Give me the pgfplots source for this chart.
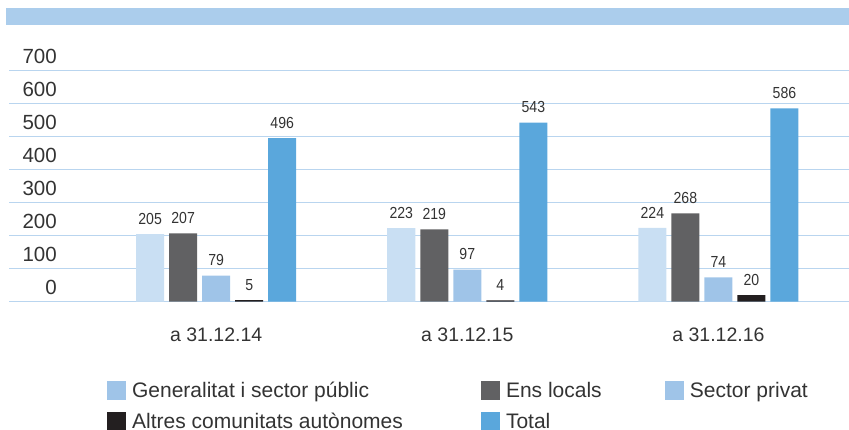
\documentclass[border=0pt]{standalone}
\usepackage{pgfplots}
\pgfplotsset{compat=1.18}
\usepackage{fontspec}
\setmainfont{Liberation Sans}
\newfontfamily\narrowfont[FakeStretch=0.88]{Liberation Sans}
\definecolor{cA}{HTML}{C9DFF3}
\definecolor{cB}{HTML}{616163}
\definecolor{cC}{HTML}{9FC4E8}
\definecolor{cD}{HTML}{231F20}
\definecolor{cE}{HTML}{5AA7DC}
\definecolor{gridc}{HTML}{B9D5EF}
\definecolor{bandc}{HTML}{ABCDEC}
\definecolor{textc}{HTML}{333333}
\begin{document}
\begin{tikzpicture}
\useasboundingbox (0,0) rectangle (849pt,430pt);
\fill[bandc] (6pt,405pt) rectangle (849pt,421.7pt);
\begin{axis}[
  at={(9pt,128.3pt)}, anchor=south west,
  scale only axis, width=840pt, height=231pt,
  xmin=-0.825, xmax=2.52, ymin=0, ymax=700,
  ytick={0,100,...,700},
  xtick={0,1,2}, xticklabels={a 31.12.14, a 31.12.15, a 31.12.16},
  axis line style={draw=none}, major tick length=0pt,
  ymajorgrids, grid style={gridc, line width=1.2pt},
  /pgf/number format/assume math mode=true,
  yticklabel style={anchor=base east, inner sep=0pt, xshift=48pt, yshift=7.5pt, font=\fontsize{20.5}{24}\selectfont, text=textc},
  xticklabel style={anchor=base, inner sep=0pt, yshift=-40pt, font=\fontsize{19.5}{24}\selectfont, text=textc},
  ybar, bar width=0.1116,
  nodes near coords,
  every node near coord/.append style={inner sep=0pt, yshift=9.5pt, font=\narrowfont\fontsize{16}{19}\selectfont, text=textc},
  legend columns=3,
  legend cell align=left,
  legend style={at={(axis description cs:0.1167,-0.343)}, anchor=north west, draw=none, fill=none, inner sep=0pt,
    font=\fontsize{21}{25}\selectfont, text=textc, row sep=13pt,
    nodes={inner sep=0pt},
    /tikz/every odd column/.style={column sep=7pt}},
]
\addplot[fill=cA, draw=none, bar shift=-0.263, forget plot] coordinates {(0,205) (1,223) (2,224)};
\addplot[fill=cB, draw=none, bar shift=-0.1315, forget plot] coordinates {(0,207) (1,219) (2,268)};
\addplot[fill=cC, draw=none, bar shift=0, forget plot] coordinates {(0,79) (1,97) (2,74)};
\addplot[fill=cD, draw=none, bar shift=0.1315, forget plot] coordinates {(0,5) (1,4) (2,20)};
\addplot[fill=cE, draw=none, bar shift=0.263, forget plot] coordinates {(0,496) (1,543) (2,586)};
\addlegendimage{legend image code/.code={\fill[cC] (0pt,-8pt) rectangle (17.5pt,9.5pt);}}
\addlegendentry{\makebox[349pt][l]{Generalitat i sector públic}}
\addlegendimage{legend image code/.code={\fill[cB] (0pt,-8pt) rectangle (17.5pt,9.5pt);}}
\addlegendentry{\makebox[159pt][l]{Ens locals}}
\addlegendimage{legend image code/.code={\fill[cC] (0pt,-8pt) rectangle (17.5pt,9.5pt);}}
\addlegendentry{Sector privat}
\addlegendimage{legend image code/.code={\fill[cD] (0pt,-8pt) rectangle (17.5pt,9.5pt);}}
\addlegendentry{\makebox[349pt][l]{Altres comunitats autònomes}}
\addlegendimage{legend image code/.code={\fill[cE] (0pt,-8pt) rectangle (17.5pt,9.5pt);}}
\addlegendentry{\makebox[159pt][l]{Total}}
\end{axis}
\end{tikzpicture}
\end{document}
